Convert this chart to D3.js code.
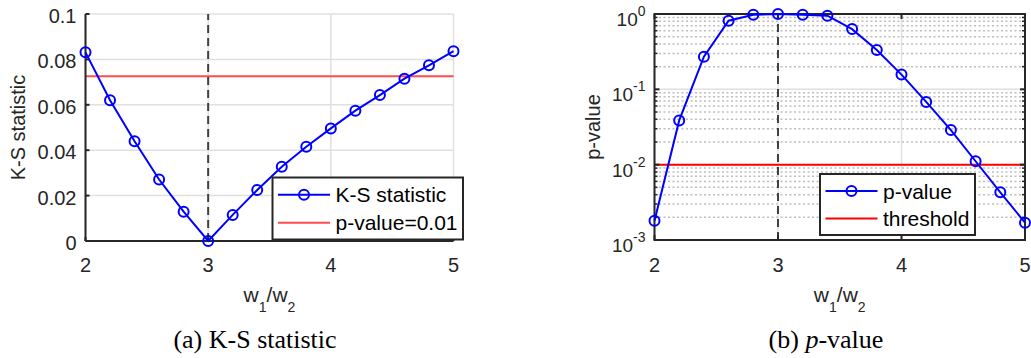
<!DOCTYPE html>
<html>
<head>
<meta charset="utf-8">
<script src="https://cdn.jsdelivr.net/npm/d3@7"></script>
<style>
  body { margin: 0; background: #fff; }
  text { font-family: "Liberation Sans", Arial, sans-serif; fill: #262626; }
  .caption { font-family: "Liberation Serif", "Times New Roman", serif; fill: #000; }
</style>
</head>
<body>
<div id="chart"></div>
<script>
// w1/w2 ratios tested
const wRatio = [2.0, 2.2, 2.4, 2.6, 2.8, 3.0, 3.2, 3.4, 3.6, 3.8, 4.0, 4.2, 4.4, 4.6, 4.8, 5.0];
// K-S statistic per ratio
const ksStat = [0.0831, 0.0620, 0.0439, 0.0271, 0.0129, 0.0, 0.0115, 0.0225, 0.0327, 0.0415,
                0.0496, 0.0574, 0.0643, 0.0715, 0.0774, 0.0836];
// p-value per ratio
const pValue = [0.0018, 0.0387, 0.271, 0.815, 0.98, 1.0, 0.98, 0.95, 0.63, 0.333,
                0.157, 0.068, 0.0288, 0.0111, 0.0043, 0.0017];
const ksThreshold = 0.0726;
const pThreshold = 0.01;
const trueRatio = 3;
const xTicks = [2, 3, 4, 5];
const ksTicks = [0, 0.02, 0.04, 0.06, 0.08, 0.1];
const pTicks = [1e-3, 1e-2, 1e-1, 1];
const ksLegend = ["K-S statistic", "p-value=0.01"];
const pLegend = ["p-value", "threshold"];

const width = 1031, height = 358;
const dark = "#262626", gridCol = "#e0e0e0";

const svg = d3.select("#chart").append("svg")
    .attr("width", width)
    .attr("height", height);
svg.append("rect").attr("width", width).attr("height", height).attr("fill", "#fff");

// ---------- panel (a): K-S statistic ----------
const xA = d3.scaleLinear().domain([2, 5]).range([85.5, 453.5]);
const yA = d3.scaleLinear().domain([0, 0.1]).range([241, 14]);
const gA = svg.append("g");

// grid
gA.selectAll(".hgrid").data(ksTicks).enter().append("line")
    .attr("x1", xA(2)).attr("x2", xA(5))
    .attr("y1", d => yA(d)).attr("y2", d => yA(d))
    .attr("stroke", gridCol).attr("stroke-width", 1.5);
gA.selectAll(".vgrid").data(xTicks).enter().append("line")
    .attr("x1", d => xA(d)).attr("x2", d => xA(d))
    .attr("y1", yA(0)).attr("y2", yA(0.1))
    .attr("stroke", gridCol).attr("stroke-width", 1.5);

// threshold
gA.append("line")
    .attr("x1", xA(2)).attr("x2", xA(5))
    .attr("y1", yA(ksThreshold)).attr("y2", yA(ksThreshold))
    .attr("stroke", "#ff4d4d").attr("stroke-width", 2);

// true ratio
gA.append("line")
    .attr("x1", xA(trueRatio)).attr("x2", xA(trueRatio))
    .attr("y1", yA(0)).attr("y2", yA(0.1))
    .attr("stroke", "#404040").attr("stroke-width", 2).attr("stroke-dasharray", "8,5");

// axes (box off)
gA.append("line").attr("x1", xA(2)).attr("x2", xA(5)).attr("y1", yA(0)).attr("y2", yA(0))
    .attr("stroke", dark).attr("stroke-width", 2);
gA.append("line").attr("x1", xA(2)).attr("x2", xA(2)).attr("y1", yA(0)).attr("y2", yA(0.1))
    .attr("stroke", dark).attr("stroke-width", 2);
gA.selectAll(".ytick").data(ksTicks).enter().append("line")
    .attr("x1", xA(2)).attr("x2", xA(2) + 4)
    .attr("y1", d => yA(d)).attr("y2", d => yA(d))
    .attr("stroke", dark).attr("stroke-width", 2);
gA.selectAll(".xtick").data(xTicks).enter().append("line")
    .attr("x1", d => xA(d)).attr("x2", d => xA(d))
    .attr("y1", yA(0)).attr("y2", yA(0) - 4)
    .attr("stroke", dark).attr("stroke-width", 2);

gA.selectAll(".ylab").data(ksTicks).enter().append("text")
    .attr("x", xA(2) - 9).attr("y", d => yA(d) + 9)
    .attr("text-anchor", "end").style("font-size", "20px")
    .text(d => d === 0 ? "0" : d3.format("")(+d.toFixed(2)));
gA.selectAll(".xlab").data(xTicks).enter().append("text")
    .attr("x", d => xA(d)).attr("y", 272)
    .attr("text-anchor", "middle").style("font-size", "20px")
    .text(d => d);

// series
const lineA = d3.line().x((d, i) => xA(wRatio[i])).y(d => yA(d));
gA.append("path").datum(ksStat)
    .attr("d", lineA).attr("fill", "none")
    .attr("stroke", "#0000ff").attr("stroke-width", 2);
gA.selectAll(".mk").data(ksStat).enter().append("circle")
    .attr("cx", (d, i) => xA(wRatio[i])).attr("cy", d => yA(d)).attr("r", 5)
    .attr("fill", "none").attr("stroke", "#0000ff").attr("stroke-width", 2);

// labels
gA.append("text")
    .attr("transform", "translate(25," + (yA(0.05)) + ")rotate(-90)")
    .attr("text-anchor", "middle").style("font-size", "20px")
    .text("K-S statistic");
xLabel(gA, (xA(2) + xA(5)) / 2);
gA.append("text").attr("class", "caption")
    .attr("x", 255).attr("y", 348).attr("text-anchor", "middle").style("font-size", "26px")
    .text("(a) K-S statistic");

legend(gA, 272.5, 177.5, 190.5, 62, ksLegend, "#ff4d4d");

// ---------- panel (b): p-value ----------
const xB = d3.scaleLinear().domain([2, 5]).range([654.5, 1025]);
const yB = d3.scaleLog().domain([1e-3, 1]).range([240, 14]);
const gB = svg.append("g");

// minor dotted grid
const minorB = [];
pTicks.slice(0, 3).forEach(p => { for (let k = 2; k <= 9; k++) minorB.push(p * k); });
gB.selectAll(".mgrid").data(minorB).enter().append("line")
    .attr("x1", xB(2)).attr("x2", xB(5))
    .attr("y1", d => yB(d)).attr("y2", d => yB(d))
    .attr("stroke", "#bdbdbd").attr("stroke-width", 1.5).attr("stroke-dasharray", "2,2.5");
gB.selectAll(".hgrid").data(pTicks).enter().append("line")
    .attr("x1", xB(2)).attr("x2", xB(5))
    .attr("y1", d => yB(d)).attr("y2", d => yB(d))
    .attr("stroke", gridCol).attr("stroke-width", 1.5);
gB.selectAll(".vgrid").data(xTicks).enter().append("line")
    .attr("x1", d => xB(d)).attr("x2", d => xB(d))
    .attr("y1", yB(1e-3)).attr("y2", yB(1))
    .attr("stroke", gridCol).attr("stroke-width", 1.5);

gB.append("line")
    .attr("x1", xB(2)).attr("x2", xB(5))
    .attr("y1", yB(pThreshold)).attr("y2", yB(pThreshold))
    .attr("stroke", "#ff0000").attr("stroke-width", 2);
gB.append("line")
    .attr("x1", xB(trueRatio)).attr("x2", xB(trueRatio))
    .attr("y1", yB(1e-3)).attr("y2", yB(1))
    .attr("stroke", "#404040").attr("stroke-width", 2).attr("stroke-dasharray", "8,5");

// box on
gB.append("rect")
    .attr("x", xB(2)).attr("y", yB(1))
    .attr("width", xB(5) - xB(2)).attr("height", yB(1e-3) - yB(1))
    .attr("fill", "none").attr("stroke", dark).attr("stroke-width", 2);
[xB(2), xB(5)].forEach((x0, s) => {
  const dir = s === 0 ? 1 : -1;
  gB.selectAll(null).data(pTicks).enter().append("line")
      .attr("x1", x0).attr("x2", x0 + dir * 5)
      .attr("y1", d => yB(d)).attr("y2", d => yB(d))
      .attr("stroke", dark).attr("stroke-width", 2);
  gB.selectAll(null).data(minorB).enter().append("line")
      .attr("x1", x0).attr("x2", x0 + dir * 3)
      .attr("y1", d => yB(d)).attr("y2", d => yB(d))
      .attr("stroke", dark).attr("stroke-width", 1.5);
});
[yB(1e-3), yB(1)].forEach((y0, s) => {
  const dir = s === 0 ? -1 : 1;
  gB.selectAll(null).data(xTicks).enter().append("line")
      .attr("x1", d => xB(d)).attr("x2", d => xB(d))
      .attr("y1", y0).attr("y2", y0 + dir * 5)
      .attr("stroke", dark).attr("stroke-width", 2);
});

const yLabB = gB.selectAll(".ylab").data(pTicks).enter().append("text")
    .attr("x", xB(2) - 9).attr("y", d => yB(d) + 12)
    .attr("text-anchor", "end").style("font-size", "19px");
yLabB.append("tspan").text("10");
yLabB.append("tspan").attr("dy", -10).style("font-size", "14px")
    .text(d => Math.round(Math.log10(d)));
gB.selectAll(".xlab").data(xTicks).enter().append("text")
    .attr("x", d => xB(d)).attr("y", 272)
    .attr("text-anchor", "middle").style("font-size", "20px")
    .text(d => d);

const lineB = d3.line().x((d, i) => xB(wRatio[i])).y(d => yB(d));
gB.append("path").datum(pValue)
    .attr("d", lineB).attr("fill", "none")
    .attr("stroke", "#0000ff").attr("stroke-width", 2);
gB.selectAll(".mk").data(pValue).enter().append("circle")
    .attr("cx", (d, i) => xB(wRatio[i])).attr("cy", d => yB(d)).attr("r", 5)
    .attr("fill", "none").attr("stroke", "#0000ff").attr("stroke-width", 2);

gB.append("text")
    .attr("transform", "translate(600,127)rotate(-90)")
    .attr("text-anchor", "middle").style("font-size", "20px")
    .text("p-value");
xLabel(gB, (xB(2) + xB(5)) / 2);
const capB = gB.append("text").attr("class", "caption")
    .attr("x", 826).attr("y", 348).attr("text-anchor", "middle").style("font-size", "26px");
capB.append("tspan").text("(b) ");
capB.append("tspan").style("font-style", "italic").text("p");
capB.append("tspan").text("-value");

legend(gB, 820, 174, 155, 61, pLegend, "#ff0000");

// ---------- helpers ----------
function xLabel(g, cx) {
  const t = g.append("text").attr("x", cx).attr("y", 301.5)
      .attr("text-anchor", "middle").style("font-size", "21px");
  t.append("tspan").text("w");
  t.append("tspan").attr("dy", 10).style("font-size", "14px").text("1");
  t.append("tspan").attr("dy", -10).text("/w");
  t.append("tspan").attr("dy", 10).style("font-size", "14px").text("2");
}

function legend(g, x, y, w, h, labels, redCol) {
  const lg = g.append("g").attr("transform", "translate(" + x + "," + y + ")");
  lg.append("rect").attr("width", w).attr("height", h)
      .attr("fill", "#fff").attr("stroke", dark).attr("stroke-width", 2);
  const rows = [h * 0.28, h * 0.73];
  lg.append("line").attr("x1", 5.5).attr("x2", 57.5).attr("y1", rows[0]).attr("y2", rows[0])
      .attr("stroke", "#0000ff").attr("stroke-width", 2);
  lg.append("circle").attr("cx", 31.5).attr("cy", rows[0]).attr("r", 5)
      .attr("fill", "none").attr("stroke", "#0000ff").attr("stroke-width", 2);
  lg.append("line").attr("x1", 5.5).attr("x2", 57.5).attr("y1", rows[1]).attr("y2", rows[1])
      .attr("stroke", redCol).attr("stroke-width", 2);
  lg.selectAll(".lt").data(labels).enter().append("text")
      .attr("x", 63).attr("y", (d, i) => rows[i] + 7.5)
      .style("font-size", "21px").style("fill", "#000")
      .text(d => d);
}
</script>
</body>
</html>
